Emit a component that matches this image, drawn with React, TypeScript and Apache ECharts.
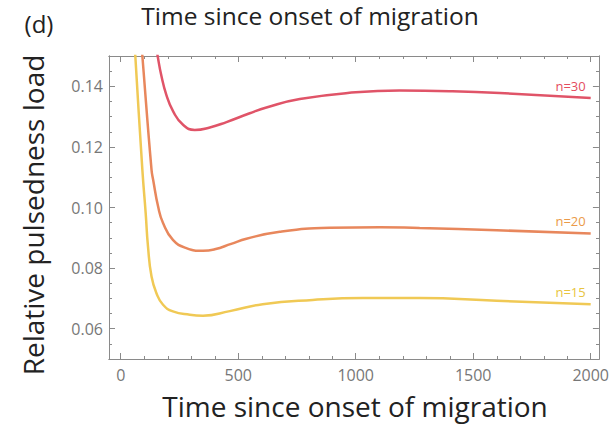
import React, { useEffect, useRef } from "react";
import * as echarts from "echarts";

// ---- data ----
const timeN15 = [55, 62, 92, 106, 116, 131, 152, 180, 222, 294, 350, 464, 604, 817, 1030, 1272, 1600, 2000];
const loadN15 = [0.159, 0.150, 0.1124, 0.0982, 0.0871, 0.0772, 0.0717, 0.0679, 0.0657, 0.0646, 0.0643, 0.0658, 0.0681, 0.0695, 0.0701, 0.0701, 0.0692, 0.0681];

const timeN20 = [85, 92, 131, 138, 159, 180, 222, 279, 350, 400, 470, 535, 677, 889, 1102, 1272, 1600, 2000];
const loadN20 = [0.157, 0.150, 0.1124, 0.1091, 0.1003, 0.0949, 0.0893, 0.0866, 0.0857, 0.0862, 0.0880, 0.0897, 0.0920, 0.0933, 0.0935, 0.0932, 0.0925, 0.0914];

const timeN30 = [150, 157, 172, 194, 223, 265, 315, 379, 450, 549, 620, 762, 1000, 1187, 1400, 1613, 2000];
const loadN30 = [0.1533, 0.150, 0.1438, 0.1372, 0.1317, 0.1273, 0.1256, 0.1264, 0.1282, 0.1311, 0.1330, 0.1358, 0.1380, 0.1386, 0.1384, 0.1378, 0.1361];

const seriesNames = ["n=15", "n=20", "n=30"];
const seriesColors = ["#f0c955", "#e8875c", "#e05468"];
const labelColors = ["#e8c440", "#eb9a48", "#e44c5e"];

const xMajorTicks = [0, 500, 1000, 1500, 2000];
const xMinorTicks = [100, 200, 300, 400, 600, 700, 800, 900, 1100, 1200, 1300, 1400, 1600, 1700, 1800, 1900];
const yMajorTicks = [0.06, 0.08, 0.10, 0.12, 0.14];
const yMinorTicks = [0.055, 0.065, 0.07, 0.075, 0.085, 0.09, 0.095, 0.105, 0.11, 0.115, 0.125, 0.13, 0.135, 0.145];

const X_MIN = -50;
const X_MAX = 2035;
const Y_MIN = 0.05;
const Y_MAX = 0.15;

const FONT = "'Open Sans', 'DejaVu Sans', sans-serif";
const AXIS_COLOR = "#8a8a8a";

function zip(xs: number[], ys: number[]) {
  return xs.map((x, i) => [x, ys[i]]);
}

export default function App() {
  const ref = useRef<HTMLDivElement>(null);

  useEffect(() => {
    if (!ref.current) return;
    const chart = echarts.init(ref.current, null, { renderer: "svg" });

    const gridBox = { left: 109, top: 56, right: 13, bottom: 66 };
    const lineStyle = { color: AXIS_COLOR, width: 1 };

    const makeX = (gridIndex: number, position: string, ticks: number[], len: number, labels: boolean) => ({
      type: "value",
      gridIndex,
      position,
      min: X_MIN,
      max: X_MAX,
      axisLine: { show: true, onZero: false, lineStyle },
      axisTick: { show: true, inside: true, length: len, customValues: ticks, lineStyle },
      axisLabel: labels
        ? {
            show: true,
            customValues: ticks,
            color: "#777",
            fontSize: 16,
            fontFamily: FONT,
            margin: 8,
            formatter: (v: number) => String(v),
          }
        : { show: false },
      splitLine: { show: false },
    });
    const makeY = (gridIndex: number, position: string, ticks: number[], len: number, labels: boolean) => ({
      type: "value",
      gridIndex,
      position,
      min: Y_MIN,
      max: Y_MAX,
      axisLine: { show: true, onZero: false, lineStyle },
      axisTick: { show: true, inside: true, length: len, customValues: ticks, lineStyle },
      axisLabel: labels
        ? {
            show: true,
            customValues: ticks,
            color: "#777",
            fontSize: 16,
            fontFamily: FONT,
            margin: 6,
            formatter: (v: number) => v.toFixed(2),
          }
        : { show: false },
      splitLine: { show: false },
    });

    const datasets = [zip(timeN15, loadN15), zip(timeN20, loadN20), zip(timeN30, loadN30)];

    chart.setOption({
      animation: false,
      backgroundColor: "#ffffff",
      grid: [
        { ...gridBox, containLabel: false },
        { ...gridBox, containLabel: false },
      ],
      xAxis: [
        makeX(0, "bottom", xMajorTicks, 6, true),
        makeX(0, "top", xMajorTicks, 6, false),
        makeX(1, "bottom", xMinorTicks, 3, false),
        makeX(1, "top", xMinorTicks, 3, false),
      ],
      yAxis: [
        makeY(0, "left", yMajorTicks, 6, true),
        makeY(0, "right", yMajorTicks, 6, false),
        makeY(1, "left", yMinorTicks, 3, false),
        makeY(1, "right", yMinorTicks, 3, false),
      ],
      series: datasets.map((d, i) => ({
        type: "line",
        name: seriesNames[i],
        xAxisIndex: 0,
        yAxisIndex: 0,
        data: d,
        smooth: 0.5,
        symbol: "none",
        clip: true,
        lineStyle: { color: seriesColors[i], width: 2.5 },
        markPoint: {
          symbol: "circle",
          symbolSize: 0,
          silent: true,
          data: [{ coord: d[d.length - 1] }],
          label: {
            show: true,
            formatter: seriesNames[i],
            position: "inside",
            align: "right",
            verticalAlign: "bottom",
            offset: [-5, -6],
            color: labelColors[i],
            fontSize: 13,
            fontFamily: FONT,
          },
        },
      })),
      graphic: [
        {
          type: "text",
          x: 39,
          y: 23,
          style: { text: "(d)", font: `24px ${FONT}`, fill: "#222", textAlign: "center", textVerticalAlign: "middle" },
        },
        {
          type: "text",
          x: 310,
          y: 15,
          style: {
            text: "Time since onset of migration",
            font: `24.5px ${FONT}`,
            fill: "#222",
            textAlign: "center",
            textVerticalAlign: "middle",
          },
        },
        {
          type: "text",
          x: 355,
          y: 406,
          style: {
            text: "Time since onset of migration",
            font: `28px ${FONT}`,
            fill: "#222",
            textAlign: "center",
            textVerticalAlign: "middle",
          },
        },
        {
          type: "text",
          x: 33,
          y: 215,
          rotation: Math.PI / 2,
          style: {
            text: "Relative pulsedness load",
            font: `28px ${FONT}`,
            fill: "#222",
            textAlign: "center",
            textVerticalAlign: "middle",
          },
        },
      ],
    });

    return () => chart.dispose();
  }, []);

  return (
    <div
      ref={ref}
      style={{ position: "fixed", left: 0, top: 0, width: 612, height: 425, background: "#fff" }}
    />
  );
}
